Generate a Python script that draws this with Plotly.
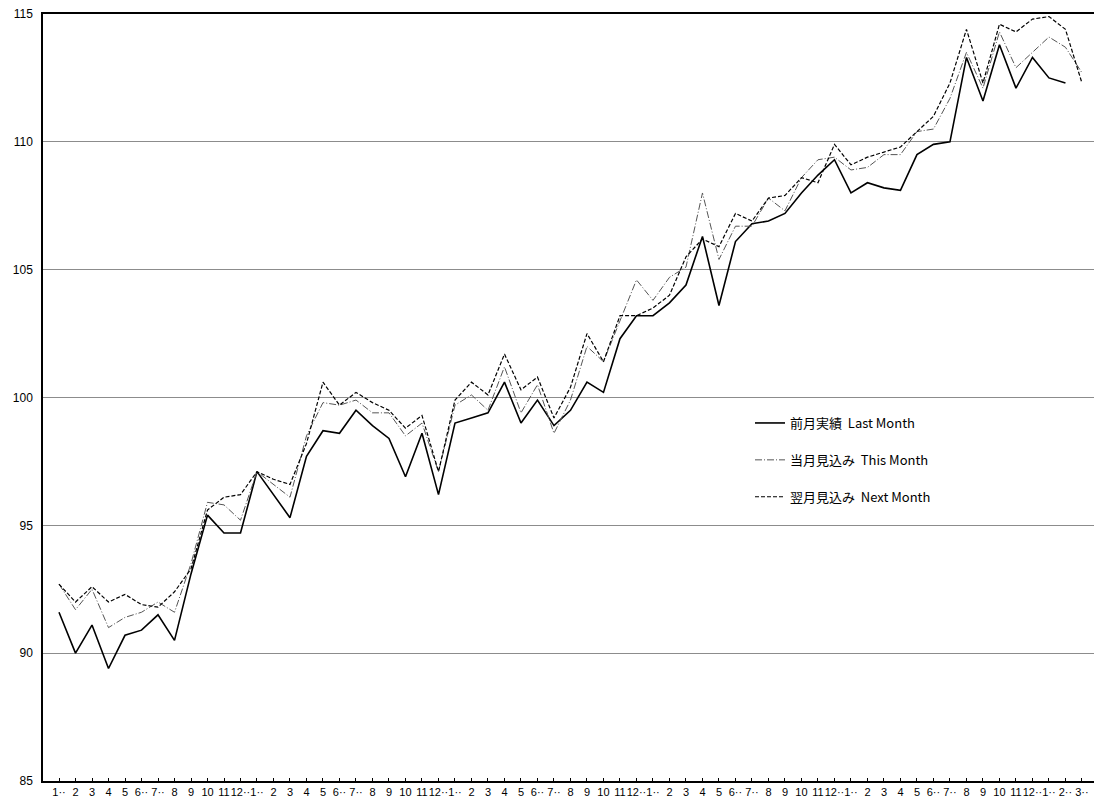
import plotly.graph_objects as go

months = ["1··", "2", "3", "4", "5", "6··", "7··", "8", "9", "10", "11", "12··"]
tick_labels = months * 5 + ["1··", "2··", "3··"]

last_month = [91.6, 90.0, 91.1, 89.4, 90.7, 90.9, 91.5, 90.5, 93.1, 95.4,
              94.7, 94.7, 97.1, 96.2, 95.3, 97.7, 98.7, 98.6, 99.5, 98.9,
              98.4, 96.9, 98.6, 96.2, 99.0, 99.2, 99.4, 100.6, 99.0, 99.9,
              98.9, 99.5, 100.6, 100.2, 102.3, 103.2, 103.2, 103.7, 104.4, 106.3,
              103.6, 106.1, 106.8, 106.9, 107.2, 108.0, 108.7, 109.3, 108.0, 108.4,
              108.2, 108.1, 109.5, 109.9, 110.0, 113.3, 111.6, 113.8, 112.1, 113.3,
              112.5, 112.3]

this_month = [92.7, 91.7, 92.5, 91.0, 91.4, 91.6, 92.0, 91.6, 93.5, 95.9,
              95.8, 95.2, 97.1, 96.6, 96.1, 98.5, 99.8, 99.7, 99.9, 99.4,
              99.4, 98.5, 99.0, 97.1, 99.7, 100.1, 99.5, 101.2, 99.4, 100.5,
              98.6, 99.9, 102.0, 101.4, 103.0, 104.6, 103.8, 104.7, 105.1, 108.0,
              105.4, 106.7, 106.7, 107.8, 107.3, 108.6, 109.3, 109.4, 108.9, 109.0,
              109.5, 109.5, 110.4, 110.5, 111.7, 113.5, 112.1, 114.3, 112.9, 113.5,
              114.1, 113.7, 112.7]

next_month = [92.7, 92.0, 92.6, 92.0, 92.3, 91.9, 91.8, 92.4, 93.3, 95.6,
              96.1, 96.2, 97.1, 96.8, 96.6, 98.2, 100.6, 99.7, 100.2, 99.8,
              99.5, 98.8, 99.3, 97.1, 99.9, 100.6, 100.1, 101.7, 100.3, 100.8,
              99.2, 100.4, 102.5, 101.4, 103.2, 103.2, 103.5, 104.0, 105.5, 106.2,
              105.9, 107.2, 106.9, 107.8, 107.9, 108.6, 108.4, 109.9, 109.1, 109.4,
              109.6, 109.8, 110.4, 111.0, 112.3, 114.4, 112.3, 114.6, 114.3, 114.8,
              114.9, 114.4, 112.3]

names = ["前月実績\u00a0\u00a0Last Month", "当月見込み\u00a0\u00a0This Month", "翌月見込み\u00a0\u00a0Next Month"]

fig = go.Figure()
fig.add_trace(go.Scatter(x=list(range(len(last_month))), y=last_month, mode="lines",
                         name=names[0], legendgroup="a",
                         line=dict(color="black", width=1.6)))
fig.add_trace(go.Scatter(x=list(range(len(this_month))), y=this_month, mode="lines",
                         name=names[1], legendgroup="b",
                         line=dict(color="#555555", width=1, dash="7px,2px,1px,2px")))
fig.add_trace(go.Scatter(x=list(range(len(next_month))), y=next_month, mode="lines",
                         name=names[2], legendgroup="c",
                         line=dict(color="black", width=1.2, dash="4px,2px")))

fig.update_layout(
    width=1094, height=802,
    margin=dict(l=43, r=0, t=14, b=21),
    paper_bgcolor="white", plot_bgcolor="white",
    font=dict(family="Liberation Sans, Arial, sans-serif", color="black", size=11),
    showlegend=True,
    legend=dict(x=(750 - 43) / 1051, y=(781 - 408) / 767, xanchor="left", yanchor="top",
                bgcolor="rgba(0,0,0,0)", itemwidth=30, tracegroupgap=17,
                traceorder="grouped",
                font=dict(family="Noto Sans CJK JP, sans-serif", size=13, color="black")),
    xaxis=dict(
        range=[-0.97, 62.73], tickmode="array",
        tickvals=list(range(len(tick_labels))), ticktext=tick_labels,
        showgrid=False, zeroline=False,
        showline=True, linecolor="black", linewidth=1.5, mirror=True,
        ticks="inside", ticklen=3, tickcolor="black",
        tickfont=dict(size=11, family="Liberation Sans, Arial, sans-serif"),
        tickangle=0,
    ),
    yaxis=dict(
        range=[85, 115], tickmode="array", tickvals=[85, 90, 95, 100, 105, 110, 115],
        showgrid=True, gridcolor="#8c8c8c", gridwidth=1, zeroline=False,
        showline=True, linecolor="black", linewidth=1.5,
        ticks="", tickfont=dict(size=12, family="Liberation Sans, Arial, sans-serif"),
        ticklabelstandoff=6,
    ),
)

fig.write_html("out.html", config={"displayModeBar": False},
               post_script="document.body.style.margin='0';document.body.style.overflow='hidden';")
